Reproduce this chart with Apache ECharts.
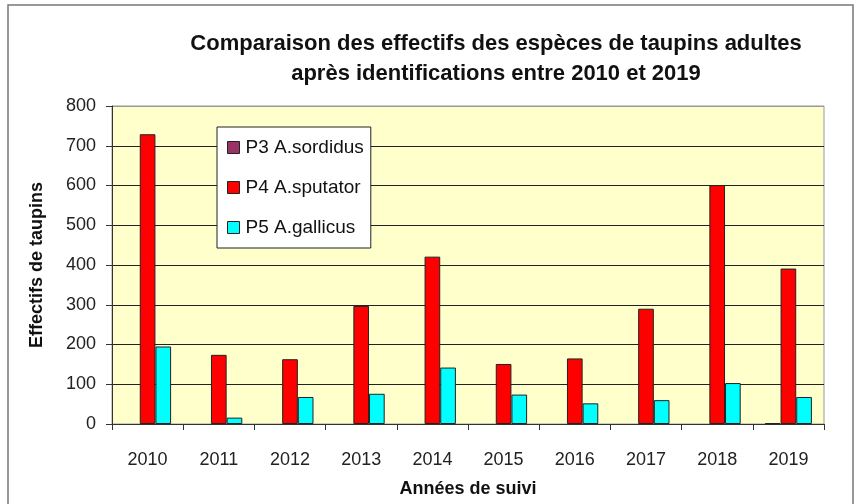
<!DOCTYPE html>
<html>
<head>
<meta charset="utf-8">
<script src="https://cdn.jsdelivr.net/npm/echarts@6/dist/echarts.min.js"></script>
<style>
  html, body { margin: 0; padding: 0; background: #fff; }
  #chart { width: 857px; height: 504px; }
</style>
</head>
<body>
<div id="chart"></div>
<script>
// années de suivi
const years = ["2010", "2011", "2012", "2013", "2014", "2015", "2016", "2017", "2018", "2019"];
// effectifs par espèce
const sordidus = [0, 0, 0, 0, 0, 0, 0, 0, 0, 2];
const sputator = [729, 174, 163, 297, 421, 151, 165, 290, 601, 391];
const gallicus = [195, 16, 68, 76, 142, 74, 52, 60, 103, 68];
const yTicks = [0, 100, 200, 300, 400, 500, 600, 700, 800];

const font = "'Liberation Sans', 'Noto Sans', sans-serif";

const myChart = echarts.init(document.getElementById("chart"));

function barSeries(name, data, color) {
  return {
    name: name,
    type: "bar",
    // pas de contour pour les valeurs nulles
    data: data.map((v) => (v === 0 ? { value: v, itemStyle: { borderWidth: 0 } } : v)),
    barGap: "0%",
    barCategoryGap: "34%",
    itemStyle: { color: color, borderColor: "#222", borderWidth: 1 },
  };
}

// dernière ligne (800) grise comme le cadre
const splitColors = yTicks.map((t, i) => (i === yTicks.length - 1 ? "#999" : "#222"));

myChart.setOption({
  animation: false,
  textStyle: { fontFamily: font },
  title: {
    text: "Comparaison des effectifs des espèces de taupins adultes\naprès identifications entre 2010 et 2019",
    left: 491,
    top: 24,
    textAlign: "center",
    textStyle: { fontSize: 22, fontWeight: "bold", color: "#111", lineHeight: 30, fontFamily: font },
  },
  graphic: [
    {
      // cadre du graphique
      type: "rect",
      shape: { x: 8, y: 5, width: 845, height: 510 },
      style: { fill: "none", stroke: "#777", lineWidth: 1.5 },
      silent: true,
    },
  ],
  legend: {
    orient: "vertical",
    left: 217,
    top: 127,
    icon: "rect",
    itemWidth: 12,
    itemHeight: 12,
    itemGap: 21,
    padding: [11, 7, 11, 10],
    backgroundColor: "#fff",
    borderColor: "#222",
    borderWidth: 1,
    textStyle: { fontSize: 19, color: "#111", padding: [0, 0, 0, 1] },
    itemStyle: { borderColor: "#222", borderWidth: 1 },
    data: ["P3 A.sordidus", "P4 A.sputator", "P5 A.gallicus"],
  },
  grid: {
    left: 112,
    top: 106,
    right: 33,
    bottom: 80,
    show: true,
    backgroundColor: "#FFFFCC",
    borderColor: "#999",
    borderWidth: 1,
  },
  xAxis: {
    type: "category",
    data: years,
    name: "Années de suivi",
    nameLocation: "middle",
    nameGap: 56,
    nameTextStyle: { fontSize: 18, fontWeight: "bold", color: "#111" },
    axisLine: { lineStyle: { color: "#333", width: 1 } },
    axisTick: { show: true, length: 6, lineStyle: { color: "#333" } },
    axisLabel: { fontSize: 18, color: "#222", margin: 27 },
  },
  yAxis: {
    type: "value",
    min: yTicks[0],
    max: yTicks[yTicks.length - 1],
    interval: 100,
    name: "Effectifs de taupins",
    nameLocation: "middle",
    nameGap: 66,
    nameTextStyle: { fontSize: 18, fontWeight: "bold", color: "#111" },
    axisLine: { show: true, lineStyle: { color: "#333", width: 1 } },
    axisTick: { show: true, length: 6, lineStyle: { color: "#333" } },
    axisLabel: { fontSize: 18, color: "#222", margin: 16 },
    splitLine: { lineStyle: { color: splitColors, width: 1 } },
  },
  series: [
    barSeries("P3 A.sordidus", sordidus, "#993366"),
    barSeries("P4 A.sputator", sputator, "#FF0000"),
    barSeries("P5 A.gallicus", gallicus, "#00FFFF"),
  ],
});
</script>
</body>
</html>
